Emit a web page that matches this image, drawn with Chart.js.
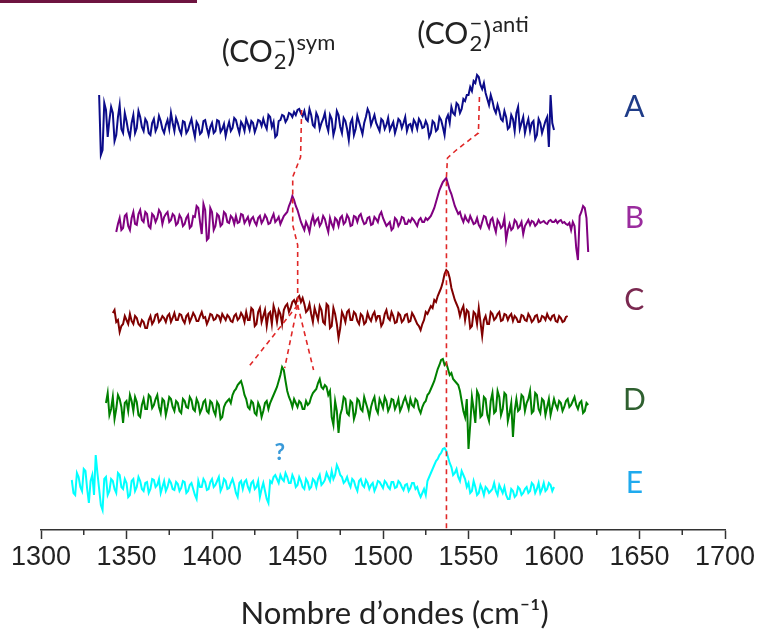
<!DOCTYPE html>
<html><head><meta charset="utf-8">
<script src="https://cdn.jsdelivr.net/npm/chart.js@4.4.1/dist/chart.umd.min.js"></script>
<style>
html,body{margin:0;padding:0;background:#fff;}
#wrap{position:relative;width:759px;height:637px;overflow:hidden;}
#topbar{position:absolute;left:0;top:0;width:197px;height:3px;background:#6E1440;}
canvas{position:absolute;left:0;top:0;}
</style></head>
<body><div id="wrap"><canvas id="c" width="759" height="637"></canvas><div id="topbar"></div></div>
<script>
// ---- data ----
const seriesNames = ['A','B','C','D','E'];
const seriesStart = [1334, 1344, 1342, 1338, 1318];   // first wavenumber of each spectrum (cm-1)
const wnStep = 1;                                       // cm-1 between points
const baseOffsets = [405, 310, 212, 125, 45];           // vertical stacking offsets
const xTicks = [1300,1350,1400,1450,1500,1550,1600,1650,1700];
const xMinorTicks = [1325,1375,1425,1475,1525,1575,1625,1675];

const valuesA = [
 30,-30,-25,22,15,-12,5,18,12,-16, -10,8,20,-4,-8,12,4,-6,-12,2,
 10,-8,-3,14,8,-2,-6,6,3,-8, -10,2,6,-6,-2,9,4,-4,-8,0,
 5,-4,12,2,-6,7,2,-5,-9,4, 3,-8,-5,1,6,-4,-12,3,0,-9,
 -7,4,5,-3,-10,-2,2,-8,-6,5, 4,-7,-4,1,-11,-3,3,-6,-3,7,
 5,-2,-8,3,0,-6,6,1,-5,4, 2,-7,-2,5,4,-1,6,0,-4,10,
 8,-2,3,-12,-10,4,5,10,9,3, 6,12,11,8,13,10,15,16,12,9,
 14,6,4,16,10,0,-2,12,8,-4, 2,6,12,0,-6,10,6,-10,-3,14,
 10,-2,-8,7,4,-4,-15,2,6,-10, -4,9,3,-3,-9,2,8,16,12,0,
 5,10,2,-2,-6,6,4,-4,0,7, -5,-1,3,-8,-2,6,4,-3,2,8,
 -6,0,1,-5,5,2,-4,6,3,-3, -2,4,0,-12,-8,4,2,-6,-4,8,
 5,-2,-10,6,10,2,18,12,10,22, 20,12,16,26,24,30,30,38,34,44,
 42,50,48,40,36,42,32,26,20,30, 24,16,12,20,14,6,4,14,8,-4,
 -2,10,6,-6,12,18,-4,2,8,-8, 0,6,-6,2,4,-14,-10,6,2,-8,
 -2,4,8,-22,30,2,-5];
const valuesB = [
 -12,-4,2,-10,-8,4,6,-6,-10,2, 8,-4,-5,6,10,0,-2,8,6,-6,
 -8,6,4,-2,2,10,7,-4,3,6, 8,-2,0,6,4,-5,-3,5,2,-6,
 -4,2,5,-8,-6,4,3,14,12,-2, -14,16,10,-20,-18,12,8,-10,-6,6,
 4,-6,-4,8,6,-2,-3,4,2,-4, 4,-3,-2,6,5,-3,0,3,-4,1,
 3,-2,-5,2,4,-3,0,5,2,-4, -3,2,6,-2,0,3,-4,0,4,6,
 8,14,18,24,20,14,10,4,-2,-6, -10,-2,-6,-12,-2,4,-4,0,2,-6,
 -3,4,1,-6,-12,2,-4,-8,2,0, -6,2,4,-4,-2,5,2,-6,-5,4,
 3,-2,4,6,0,-4,-3,2,3,-5, -4,3,1,-2,5,8,2,-2,-6,-4,
 -2,-10,-8,2,0,-6,-3,3,2,-4, -4,0,-2,2,0,-3,-6,0,2,-2,
 -2,2,0,2,4,8,12,18,24,30, 34,38,40,42,36,30,26,20,14,10,
 6,8,2,-2,4,0,-2,4,0,-4, -3,2,-5,-8,-2,4,3,-4,-8,0,
 2,-6,-12,0,-3,-8,-6,2,-20,-10, -4,-10,-8,0,-2,-8,-6,-2,-14,-6,
 -3,0,-5,-1,-2,-6,-4,0,-3,-2, -1,-3,-4,-1,0,-2,-2,0,-3,-1,
 0,-3,-2,-4,-5,-3,-10,-2,-6,-28, -40,4,8,14,12,2,-32];
const valuesC = [
 5,8,-4,-2,-14,-8,-6,2,-2,-6, 4,-3,-6,2,0,-6,-8,-2,-4,-10,
 -10,-2,2,-6,-3,3,4,-4,-2,2, 0,-4,2,4,-4,0,5,-2,-2,4,
 3,-2,-5,2,4,-4,0,5,2,-3, -3,2,6,0,1,-6,-2,4,3,-2,
 -1,3,2,-3,4,1,-2,3,1,-3, -4,2,4,-2,0,5,2,-4,6,-2,
 -2,10,8,-8,-6,6,10,-4,2,8, -8,4,6,-6,12,6,-4,8,4,-6,
 8,12,14,6,10,16,18,14,20,22, 16,20,14,6,8,14,4,-4,10,4,
 -2,12,8,-4,-6,14,12,-10,-8,10, 4,-6,-20,-10,6,2,-4,6,8,-2,
 -2,6,4,-3,-6,4,2,-6,-4,5, 0,-3,3,6,-2,2,2,-8,-5,4,
 8,0,-2,6,2,-5,-4,5,3,-4, -2,3,4,-4,-3,5,2,-2,-6,-8,
 -12,-6,-2,6,4,8,12,10,18,16, 22,26,30,36,44,48,46,40,30,24,
 18,14,10,2,8,12,-2,8,6,-10, -8,6,4,-6,10,-4,-18,-2,2,-6,
 -6,6,4,-2,0,4,6,-3,-2,4, 3,-2,2,4,-3,2,0,-4,-4,3,
 2,-2,-3,4,1,-4,-2,2,3,-4, -3,2,1,-2,4,0,-2,2,3,-3,
 -4,2,0,-4,-3,1,2];
const valuesD = [
 2,12,-10,-4,8,-14,-4,10,6,-2, -18,2,4,-6,10,4,-6,8,3,-10,
 -12,0,6,-4,-4,10,8,-3,0,6, 10,-2,-8,6,4,-10,-2,8,6,-2,
 -6,4,2,-6,-8,6,4,-2,-3,8, 5,-4,-6,6,2,-8,-4,3,5,-6,
 -8,4,2,-6,-10,3,0,-14,-12,-2, 2,4,6,2,10,14,16,20,22,24,
 18,10,6,-2,-4,4,2,-8,-10,2, -2,-12,-6,2,4,-4,2,6,10,14,
 18,24,30,38,35,24,14,8,4,-2, 6,2,-2,4,2,-4,-4,4,0,2,
 8,12,14,16,22,26,18,16,20,18, 10,14,-12,-20,4,-6,-28,-10,-4,8,
 6,-8,-10,4,2,-14,-8,6,4,-4, -6,8,2,-4,-12,-2,4,8,-4,-8,
 6,2,-3,8,4,-6,-2,6,5,-4, 0,6,-6,-2,4,8,2,-4,6,0,
 -2,6,4,-4,-8,-2,2,4,10,12, 16,20,24,30,36,40,45,46,40,42,
 36,30,32,26,24,22,20,14,4,-6, -12,6,-44,-20,8,-4,-18,14,10,-12,
 -10,8,6,-10,-16,4,12,-8,-6,14, 8,-10,-4,12,10,-16,-8,2,-32,-6,
 6,-6,-4,10,8,-6,2,6,14,-8, -6,12,10,-4,-8,6,4,-10,-2,6,
 -10,-2,6,0,-4,4,2,-6,-2,4, 6,-2,0,4,8,0,-4,2,4,-8,
 -6,2,0];
const valuesE = [
 5,-8,-10,12,8,-2,-6,16,14,-4, -18,4,10,-10,30,12,-4,-20,-25,6,
 8,-10,-6,6,4,-4,-8,12,10,-2, -4,6,2,-12,-10,4,6,-6,-2,8,
 4,-4,-6,2,3,-8,-4,6,5,-2, 0,6,-8,-2,4,-6,-2,5,2,-4,
 -5,3,1,-6,-3,4,3,-8,-6,0, 2,-4,-10,-14,4,-2,-2,6,3,-5,
 -4,3,6,-2,0,4,8,-6,-2,6, 4,-4,-3,2,6,0,-8,-12,2,4,
 -4,3,5,-2,-6,2,4,-4,-2,4, -12,-4,2,-6,-14,-18,4,2,8,10,
 6,2,10,6,4,12,8,2,2,10, 6,-2,0,8,4,-2,-4,6,3,-4,
 -2,6,4,-2,6,10,0,2,5,12, 8,4,14,6,10,20,16,10,8,2,
 4,8,2,-2,6,4,-2,-6,4,6, 0,-2,5,2,-4,0,2,-6,-2,4,
 3,0,-3,4,2,-2,-4,3,3,-3, -2,4,2,-2,-5,0,1,-6,-3,2,
 2,-4,-2,-8,-12,-8,-4,-10,4,8, 12,16,20,24,26,30,32,36,37,34,
 28,22,18,10,12,16,8,4,14,10, 6,-2,2,-8,-6,4,-2,-10,-8,0,
 -4,-10,-2,-4,-8,-6,-4,2,-6,-10, 0,-4,-8,-2,-10,-14,-14,-4,-6,-12,
 -10,-2,-4,-10,-8,-4,-2,-8,-6,2, 0,-8,-4,2,-8,-4,2,-6,-4,2,
 0,-6,-2];
const allValues = [valuesA, valuesB, valuesC, valuesD, valuesE];

// guide lines (wavenumber, stacked level)
const symGuide  = [{x:1452.4,y:420},{x:1451.8,y:373},{x:1447.2,y:353},{x:1447.2,y:305},{x:1450.1,y:285},{x:1450.1,y:225}];
const symFanL   = [{x:1450.1,y:225},{x:1420.9,y:162}];
const symFanM   = [{x:1450.1,y:225},{x:1442.5,y:162}];
const symFanR   = [{x:1450.1,y:225},{x:1459.4,y:160}];
const antiGuide = [{x:1556.4,y:433},{x:1555.8,y:397},{x:1542.9,y:380},{x:1537.7,y:372},{x:1537.1,y:353},{x:1537.1,y:0}];

// ---- styles ----
const lineColors  = ['#0C0C8A','#800080','#800000','#008000','#00FFFF'];
const labelColors = ['#1F3C88','#9A2C9E','#7A2850','#2F6030','#1FAAEE'];
const labelLevels = [423, 312, 230, 130, 47];

const datasets = [];
[symGuide, symFanL, symFanM, symFanR, antiGuide].forEach(g => datasets.push({
  data: g, borderColor: '#E02828', borderWidth: 1.6, borderDash: [5,4],
  pointRadius: 0, fill: false, order: 0, tension: 0
}));
allValues.forEach((vals, i) => datasets.push({
  label: seriesNames[i],
  data: vals.map((v, k) => ({ x: seriesStart[i] + k * wnStep, y: baseOffsets[i] + v })),
  borderColor: lineColors[i], borderWidth: 2, pointRadius: 0, fill: false, order: 1, tension: 0
}));

function drawCO2(ctx, x0, yb, sup) {
  ctx.fillStyle = '#222'; ctx.textAlign = 'left'; ctx.textBaseline = 'alphabetic';
  ctx.font = '30px Lato';
  ctx.fillText('(CO', x0, yb);
  let x = x0 + ctx.measureText('(CO').width + 1;
  ctx.font = '22px Lato';
  const w2 = ctx.measureText('2').width;
  ctx.fillText('2', x, yb + 7);
  ctx.fillText('\u2212', x + (w2 - ctx.measureText('\u2212').width) / 2, yb - 13);
  x += w2 + 1;
  ctx.font = '30px Lato';
  ctx.fillText(')', x, yb);
  x += ctx.measureText(')').width + 1;
  ctx.font = '22px Lato';
  ctx.fillText(sup, x, yb - 12);
}

const annot = {
  id: 'annot',
  afterDatasetsDraw(chart) {
    const { ctx, scales: { x, y } } = chart;
    ctx.save();
    ctx.textAlign = 'center'; ctx.textBaseline = 'middle';
    ctx.font = '30px Lato';
    seriesNames.forEach((n, i) => {
      ctx.fillStyle = labelColors[i];
      ctx.fillText(n, x.getPixelForValue(1647), y.getPixelForValue(labelLevels[i]));
    });
    ctx.font = 'bold 23px Lato'; ctx.fillStyle = '#3A9AD9';
    ctx.fillText('?', x.getPixelForValue(1439.6), y.getPixelForValue(77));
    drawCO2(ctx, x.getPixelForValue(1405.7), y.getPixelForValue(468), 'sym');
    drawCO2(ctx, x.getPixelForValue(1520.1), y.getPixelForValue(486), 'anti');
    // minor ticks
    ctx.strokeStyle = '#333'; ctx.lineWidth = 1.5;
    xMinorTicks.forEach(v => {
      const px = x.getPixelForValue(v);
      ctx.beginPath(); ctx.moveTo(px, x.top); ctx.lineTo(px, x.top + 5); ctx.stroke();
    });
    ctx.restore();
  }
};

new Chart(document.getElementById('c'), {
  type: 'line',
  data: { datasets },
  options: {
    responsive: false, animation: false, devicePixelRatio: 1,
    layout: { padding: { left: 41, right: 34, top: 0, bottom: 0 } },
    plugins: { legend: { display: false }, tooltip: { enabled: false } },
    scales: {
      x: {
        type: 'linear', min: 1300, max: 1700,
        afterBuildTicks: s => { s.ticks = xTicks.map(v => ({ value: v })); },
        ticks: { color: '#222', font: { family: '"Liberation Sans Narrow","Liberation Sans",sans-serif', size: 27 },
                 padding: 2, maxRotation: 0, autoSkip: false, callback: v => String(v) },
        grid: { drawOnChartArea: false, drawTicks: true, tickLength: 9, color: '#333', tickWidth: 1.5 },
        border: { display: true, color: '#333', width: 1.5 },
        title: { display: true, text: '\u2003Nombre d\u2019ondes (cm\u207B\u00B9)', color: '#222',
                 font: { family: 'Lato', size: 31 }, padding: { top: 0, bottom: 4 } },
        afterFit: s => { s.height = 107; }
      },
      y: { display: false, min: 0, max: 530 }
    }
  },
  plugins: [annot]
});
</script></body></html>
